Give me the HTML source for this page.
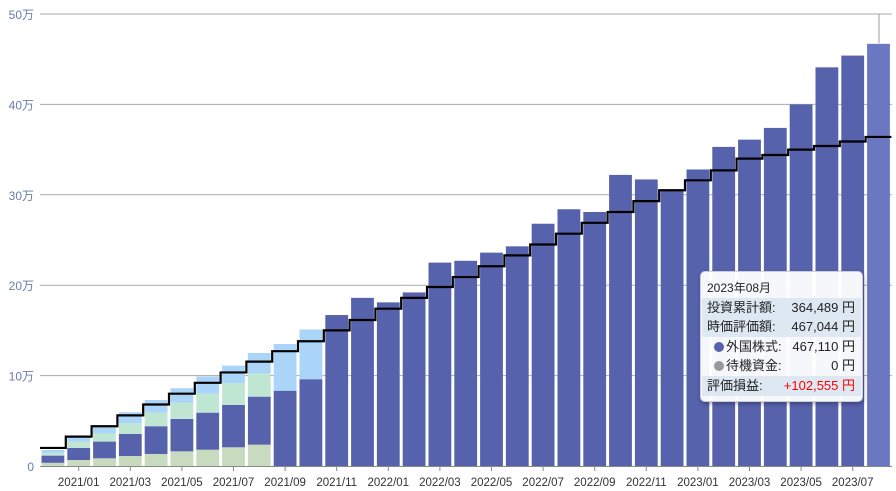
<!DOCTYPE html><html><head><meta charset="utf-8"><style>
body{margin:0;width:896px;height:491px;overflow:hidden;background:#fff;font-family:"Liberation Sans","Noto Sans CJK JP",sans-serif}
#tt{position:absolute;left:700px;top:271px;width:161px;height:129px;background:rgba(255,255,255,.95);border:1px solid #ccd;border-radius:5px;box-shadow:1px 2px 4px rgba(0,0,0,.3);font-size:13px;color:#222}
.r{position:absolute;left:1px;right:1px;height:20px;line-height:20px}
.b{background:#dde8f2}
.l{position:absolute;left:5px}.v{position:absolute;right:6px}
.d{display:inline-block;width:10px;height:10px;border-radius:50%;vertical-align:-1px;margin-right:2px}
</style></head><body>
<svg id="s" width="896" height="491" style="position:absolute;left:0;top:0"></svg>
<div id="tt">
<div class="r" style="top:6px;font-size:12px"><span class="l">2023年08月</span></div>
<div class="r b" style="top:26px"><span class="l">投資累計額:</span><span class="v">364,489 円</span></div>
<div class="r b" style="top:45px"><span class="l">時価評価額:</span><span class="v">467,044 円</span></div>
<div class="r" style="top:65px"><span class="l" style="left:12px"><span class="d" style="background:#5762ac"></span>外国株式:</span><span class="v">467,110 円</span></div>
<div class="r" style="top:84px"><span class="l" style="left:12px"><span class="d" style="background:#999"></span>待機資金:</span><span class="v">0 円</span></div>
<div class="r b" style="top:104px"><span class="l">評価損益:</span><span class="v" style="color:#f00">+102,555 円</span></div>
</div>
<script>
var s='',X0=40,P=25.8,Y0=466,K=9.04;
function y(v){return Y0-v*K}
for(var g=1;g<=5;g++){var yy=y(g*10);s+='<line x1="40" x2="892" y1="'+yy+'" y2="'+yy+'" stroke="#aaa"/>';s+='<text x="34" y="'+(yy+5)+'" text-anchor="end" font-size="12" fill="#6a7bb0">'+g+'0万</text>'}
s+='<text x="34" y="471" text-anchor="end" font-size="12" fill="#6a7bb0">0</text>';
var st=[[0.35,0.8,0.3,0.32],[0.66,1.34,0.7,0.5],[0.85,1.85,0.9,0.65],[1.1,2.45,1.2,1.2],[1.33,3.07,1.5,1.4],[1.62,3.58,1.8,1.6],[1.8,4.1,2.1,1.9],[2.07,4.68,2.4,1.95],[2.36,5.31,2.58,2.25],[0,8.33,0,5.17],[0,9.6,0,5.5]];
var nv=[16.7,18.6,18.1,19.2,22.5,22.7,23.6,24.3,26.8,28.4,28.1,32.2,31.7,30.5,32.8,35.3,36.1,37.4,40.0,44.1,45.4,46.7];
var ln=[2.0,3.25,4.4,5.6,6.8,8.0,9.2,10.35,11.55,12.7,13.8,15.0,16.15,17.4,18.6,19.8,20.9,22.1,23.3,24.5,25.7,26.9,28.1,29.3,30.5,31.6,32.7,34.0,34.4,35.0,35.4,35.9,36.4];
var cols=['#c8dbbf','#5762ac','#bfe5d3','#aad5f8'];
for(var i=0;i<33;i++){var x=X0+P*i+1.5,w=P-3;
 if(i<11){var b=0;for(var k=0;k<4;k++){var h=st[i][k];if(h>0){s+='<rect x="'+x+'" y="'+y(b+h)+'" width="'+w+'" height="'+(h*K)+'" fill="'+cols[k]+'"/>'}b+=h}}
 else{var v=nv[i-11];s+='<rect x="'+x+'" y="'+y(v)+'" width="'+w+'" height="'+(v*K)+'" fill="'+(i==32?'#6b77c0':'#5762ac')+'"/>'}}
var d='M40 '+y(ln[0]);for(var i=0;i<33;i++){var xl=X0+P*i,xr=xl+P;if(i>0)d+=' L'+xl+' '+y(ln[i]);d+=' L'+Math.min(xr,892)+' '+y(ln[i])}
s+='<path d="'+d+'" fill="none" stroke="#000" stroke-width="2.2"/>';
s+='<line x1="40" x2="892" y1="466.5" y2="466.5" stroke="#888"/>';
s+='<line x1="879" x2="879" y1="14" y2="43" stroke="#999"/>';
var labs=['2021/01','2021/03','2021/05','2021/07','2021/09','2021/11','2022/01','2022/03','2022/05','2022/07','2022/09','2022/11','2023/01','2023/03','2023/05','2023/07'];
for(var j=0;j<16;j++){var cx=X0+P*(1+2*j+0.5);s+='<line x1="'+cx+'" x2="'+cx+'" y1="466" y2="471" stroke="#888"/><text x="'+cx+'" y="486" text-anchor="middle" font-size="11.5" fill="#333">'+labs[j]+'</text>'}
document.getElementById('s').innerHTML=s;
</script></body></html>
